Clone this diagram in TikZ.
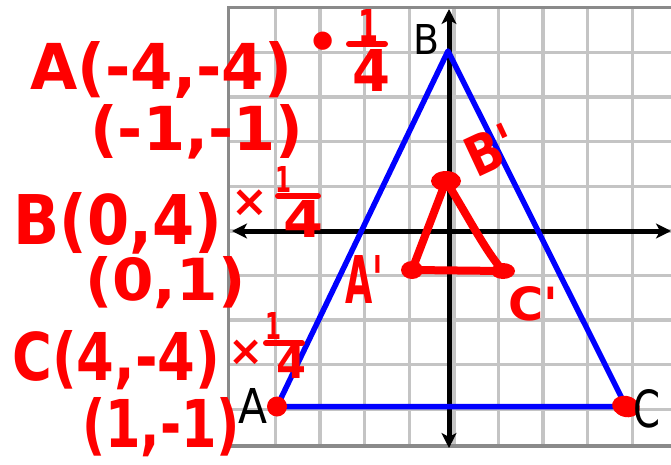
\documentclass[tikz,border=0pt]{standalone}
\usepackage{fontspec}
\setmainfont{DejaVu Sans}
\usepackage{graphicx}
\usetikzlibrary{arrows.meta}
\definecolor{gridgray}{HTML}{C4C4C4}
\definecolor{bordergray}{HTML}{8A8A8A}
\definecolor{penred}{HTML}{FF0000}
\definecolor{penblue}{HTML}{0000FF}
\newcommand{\hwred}[3]{\resizebox{#1pt}{#2pt}{\bfseries #3}}
\newcommand{\hwblk}[3]{\resizebox{#1pt}{#2pt}{#3}}
\tikzset{
  redtxt/.style={text=penred, inner sep=0pt, anchor=base west},
  blktxt/.style={text=black, inner sep=0pt, anchor=base west},
  gridline/.style={draw=gridgray, line width=3.5pt},
  axisline/.style={draw=black, line width=5pt, {Stealth[length=15pt,width=15pt,inset=4pt]}-{Stealth[length=15pt,width=15pt,inset=4pt]}},
  bluetri/.style={draw=penblue, line width=5.5pt, line join=round},
  redtri/.style={draw=penred, line width=8pt, line join=round, line cap=round},
  redbar/.style={draw=penred, line width=6pt, line cap=round},
  reddot/.style={fill=penred}
}
\begin{document}
\begin{tikzpicture}[x=1pt,y=-1pt]
\useasboundingbox (0,0) rectangle (671,465);
\fill[white] (0,0) rectangle (671,465);
% grid
\foreach \k in {0,...,8}{
  \draw[gridline] ({275.5+44.6*\k},8) -- ({275.5+44.6*\k},445);
  \draw[gridline] (229,{52.5+44.6*\k}) -- (671,{52.5+44.6*\k});
}
\draw[draw=bordergray, line width=2.5pt] (228.5,7.5) -- (671,7.5);
\draw[draw=bordergray, line width=2.5pt] (228.5,6.5) -- (228.5,447);
\draw[draw=bordergray, line width=4pt] (227,446) -- (671,446);
% axes
\coordinate (xl) at (232,231);
\coordinate (xr) at (671,231);
\coordinate (yt) at (449,9);
\coordinate (yb) at (449,448);
\draw[axisline] (xl) -- (xr);
\draw[axisline] (yb) -- (yt);
% blue triangle
\coordinate (A) at (277,406.5);
\coordinate (B) at (448,51);
\coordinate (C) at (626,406.5);
\draw[bluetri] (A) -- (B) -- (C) -- cycle;
\fill[reddot] (A) circle (10);
\fill[reddot, rotate around={-15:(C)}] (C) ellipse (14 and 10.5);
% black labels
\node[blktxt] (lB) at (413,55) {\hwblk{26}{30}{B}};
\node[blktxt] (lA) at (238,423) {\hwblk{29}{35}{A}};
\node[blktxt] (lC) at (633,427) {\hwblk{27}{38}{C}};
% red small triangle
\coordinate (Ap) at (412,270);
\coordinate (Bp) at (446,181);
\coordinate (Cp) at (503,271);
\draw[redtri] (Ap) -- (Bp) .. controls (470,220) and (485,250) .. (Cp) -- cycle;
\fill[reddot] (Bp) ellipse (15 and 10);
\fill[reddot] (Ap) ellipse (11 and 9);
\fill[reddot] (Cp) ellipse (12 and 8);
% red labels in grid
\node[redtxt] (tA) at (345,303) {\hwred{38}{48}{A\textquotesingle}};
\node[text=penred, inner sep=0pt, anchor=center, rotate=25] (tB) at (491,150) {\hwred{50}{40}{B\textquotesingle}};
\node[redtxt] (tC) at (508,320) {\hwred{50}{34}{C\textquotesingle}};
% red handwritten work
\node[redtxt] (l1) at (30,90) {\hwred{262}{48}{A(-4,-4)}};
\node[text=penred, inner sep=0pt] (dot1) at (323,46) {\fontsize{52}{52}\selectfont\bfseries •};
\node[redtxt] (f1n) at (358,42) {\hwred{20}{32}{1}};
\draw[redbar] (349,44) -- (385,44);
\node[redtxt] (f1d) at (352,92) {\hwred{38}{42}{4}};
\node[redtxt] (l2) at (90,150) {\hwred{213}{46}{(-1,-1)}};
\node[redtxt] (l3) at (13,244) {\hwred{209}{52}{B(0,4)}};
\node[text=penred, inner sep=0pt] (x1) at (250,203) {\fontsize{44}{44}\selectfont\bfseries ×};
\node[redtxt] (f2n) at (275,193) {\hwred{16}{26}{1}};
\draw[redbar] (278,196) -- (318,196);
\node[redtxt] (f2d) at (283,237) {\hwred{40}{37}{4}};
\node[redtxt] (l4) at (85,300) {\hwred{160}{44}{(0,1)}};
\node[redtxt] (l5) at (12,380) {\hwred{208}{50}{C(4,-4)}};
\node[text=penred, inner sep=0pt] (x2) at (246,353) {\fontsize{42}{42}\selectfont\bfseries ×};
\node[redtxt] (f3n) at (265,339) {\hwred{16}{27}{1}};
\draw[redbar] (266,343) -- (302,343);
\node[redtxt] (f3d) at (276,378) {\hwred{30}{32}{4}};
\node[redtxt] (l6) at (82,447) {\hwred{158}{50}{(1,-1)}};
\end{tikzpicture}
\end{document}
